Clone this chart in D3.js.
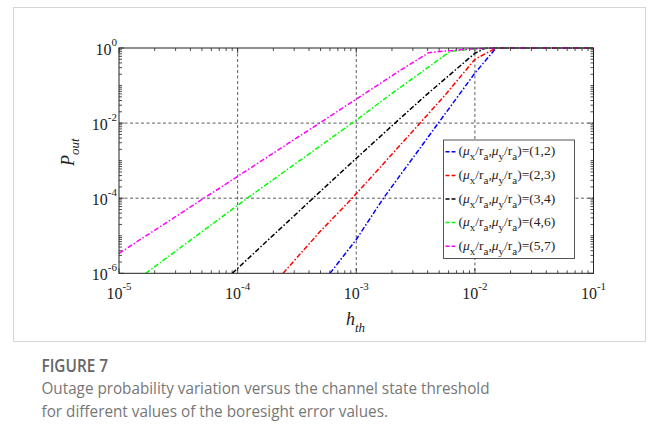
<!DOCTYPE html>
<html>
<head>
<meta charset="utf-8">
<script src="https://cdn.jsdelivr.net/npm/d3@7"></script>
<style>
  body { margin: 0; background: #fff; }
  svg { display: block; }
</style>
</head>
<body>
<script>
// [h_th, P_out] pairs for each boresight case
const seriesNames = ["(1,2)", "(2,3)", "(3,4)", "(4,6)", "(5,7)"];
const seriesColors = ["#0000ff", "#ff0000", "#000000", "#00ff00", "#ff00ff"];

const blueData = [[6.01e-4, 1e-6], [1e-3, 7.94e-6], [1.694e-3, 1e-4], [4.92e-3, 1e-2],
  [1e-2, 0.214], [1.51e-2, 1], [0.1, 1]];
const redData = [[2.415e-4, 1e-6], [4.95e-4, 1.29e-5], [9.25e-4, 1e-4], [3.45e-3, 1e-2],
  [5.61e-3, 0.0558], [1e-2, 0.5], [1.51e-2, 1], [0.1, 1]];
const blackData = [[9.02e-5, 1e-6], [4.95e-4, 1.49e-4], [1e-3, 1.15e-3], [2.12e-3, 1e-2],
  [3.88e-3, 0.0558], [1e-2, 0.724], [1.216e-2, 0.977], [1.51e-2, 1], [0.1, 1]];
const greenData = [[1.679e-5, 1e-6], [1.205e-4, 1e-4], [1e-3, 0.012], [1.866e-3, 0.0525],
  [6.17e-3, 0.81], [1e-2, 0.955], [1.51e-2, 1], [0.1, 1]];
const magentaData = [[1e-5, 3.39e-6], [5.21e-5, 1e-4], [4.9e-4, 1e-2], [2.34e-3, 0.251],
  [4.07e-3, 0.75], [6.17e-3, 0.85], [1e-2, 0.955], [1.51e-2, 1], [0.1, 1]];
const allSeries = [blueData, redData, blackData, greenData, magentaData];

const xTicks = [1e-5, 1e-4, 1e-3, 1e-2, 1e-1];
const xTickExp = ["-5", "-4", "-3", "-2", "-1"];
const yTicks = [1, 1e-2, 1e-4, 1e-6];
const yTickExp = ["0", "-2", "-4", "-6"];

const W = 658, H = 448;
const pLeft = 119, pRight = 593.5, pTop = 48, pBottom = 273.3;
const serif = "'Liberation Serif', 'Times New Roman', serif";

const svg = d3.select("body").append("svg")
  .attr("width", W).attr("height", H);

// light frame around the figure image
svg.append("rect")
  .attr("x", 13.5).attr("y", 7.5).attr("width", 632).attr("height", 334)
  .attr("fill", "none").attr("stroke", "#d6d6d6").attr("stroke-width", 1);

const x = d3.scaleLog().domain([1e-5, 1e-1]).range([pLeft, pRight]);
const y = d3.scaleLog().domain([1e-6, 1]).range([pBottom, pTop]);

// minor ticks: every m*10^k that is not a major tick
const xMinor = [], yMinor = [];
for (let k = -5; k <= -1; k++) for (let m = 1; m <= 9; m++) {
  const v = m * Math.pow(10, k);
  if (v <= 0.1 + 1e-12 && !xTicks.some(t => Math.abs(t - v) / v < 1e-6)) xMinor.push(v);
}
for (let k = -6; k <= 0; k++) for (let m = 1; m <= 9; m++) {
  const v = m * Math.pow(10, k);
  if (v <= 1 + 1e-12 && !yTicks.some(t => Math.abs(t - v) / v < 1e-6)) yMinor.push(v);
}

// grid
const grid = svg.append("g").attr("stroke", "#333").attr("stroke-width", 0.8)
  .attr("stroke-dasharray", "3,2.5");
grid.selectAll(".gx").data(xTicks.slice(1, -1)).join("line").attr("class", "gx")
  .attr("x1", d => x(d)).attr("x2", d => x(d)).attr("y1", pTop).attr("y2", pBottom);
grid.selectAll(".gy").data(yTicks.slice(1, -1)).join("line").attr("class", "gy")
  .attr("y1", d => y(d)).attr("y2", d => y(d)).attr("x1", pLeft).attr("x2", pRight);

// ticks (inward, on all four sides)
const ticks = svg.append("g").attr("stroke", "#222").attr("stroke-width", 0.8);
function xTickLines(vals, len) {
  vals.forEach(v => {
    ticks.append("line").attr("x1", x(v)).attr("x2", x(v)).attr("y1", pBottom).attr("y2", pBottom - len);
    ticks.append("line").attr("x1", x(v)).attr("x2", x(v)).attr("y1", pTop).attr("y2", pTop + len);
  });
}
function yTickLines(vals, len) {
  vals.forEach(v => {
    ticks.append("line").attr("y1", y(v)).attr("y2", y(v)).attr("x1", pLeft).attr("x2", pLeft + len);
    ticks.append("line").attr("y1", y(v)).attr("y2", y(v)).attr("x1", pRight).attr("x2", pRight - len);
  });
}
xTickLines(xTicks, 5); xTickLines(xMinor, 3);
yTickLines(yTicks, 5); yTickLines(yMinor, 3);

// curves
svg.append("clipPath").attr("id", "plotclip").append("rect")
  .attr("x", pLeft).attr("y", pTop - 1).attr("width", pRight - pLeft).attr("height", pBottom - pTop + 1);

const line = d3.line().x(d => x(d[0])).y(d => y(d[1]));
svg.append("g").attr("clip-path", "url(#plotclip)")
  .selectAll("path").data(allSeries).join("path")
  .attr("d", line)
  .attr("fill", "none")
  .attr("stroke", (d, i) => seriesColors[i])
  .attr("stroke-width", 1.5)
  .attr("stroke-dasharray", "5,2,1.5,2");

// axes box
svg.append("rect").attr("x", pLeft).attr("y", pTop).attr("width", pRight - pLeft).attr("height", pBottom - pTop)
  .attr("fill", "none").attr("stroke", "#222").attr("stroke-width", 1);

// x tick labels
const xl = svg.append("g").attr("font-family", serif).attr("fill", "#222");
xTicks.forEach((v, i) => {
  const t = xl.append("text").attr("x", x(v)).attr("y", 298.5).attr("text-anchor", "middle")
    .attr("font-size", 16);
  t.append("tspan").text("10");
  t.append("tspan").attr("dy", -8.5).attr("font-size", 11).text(xTickExp[i]);
});

// y tick labels
yTicks.forEach((v, i) => {
  const t = xl.append("text").attr("x", 117).attr("y", y(v) + 6.5).attr("text-anchor", "end")
    .attr("font-size", 16);
  t.append("tspan").text("10");
  t.append("tspan").attr("dy", -8.5).attr("font-size", 11).text(yTickExp[i]);
});

// axis titles
const xt = xl.append("text").attr("x", 346).attr("y", 325).attr("font-size", 18)
  .attr("font-style", "italic");
xt.append("tspan").text("h");
xt.append("tspan").attr("dy", 7).attr("font-size", 13).text("th");

const yt = xl.append("text").attr("transform", "translate(73.5,166) rotate(-90)")
  .attr("font-size", 18).attr("font-style", "italic");
yt.append("tspan").text("P");
yt.append("tspan").attr("dy", 5).attr("font-size", 13).text("out");

// legend
const lgX = 443.5, lgY = 140, lgW = 131, lgH = 118.5, rowH = 23.6;
svg.append("rect").attr("x", lgX).attr("y", lgY).attr("width", lgW).attr("height", lgH)
  .attr("fill", "#fff").attr("stroke", "#444").attr("stroke-width", 0.9);
const lg = svg.append("g").selectAll("g").data(seriesNames).join("g")
  .attr("transform", (d, i) => `translate(${lgX},${lgY + rowH * (i + 0.5)})`);
lg.append("line").attr("x1", 2).attr("x2", 14).attr("y1", 0).attr("y2", 0)
  .attr("stroke", (d, i) => seriesColors[i]).attr("stroke-width", 1.5)
  .attr("stroke-dasharray", "4,2");
lg.each(function (d) {
  const t = d3.select(this).append("text").attr("x", 15).attr("y", 3.5)
    .attr("font-family", serif).attr("font-size", 13.5).attr("fill", "#222");
  const parts = [["(", 0], ["μ", 2], ["x", 1], ["/r", 0], ["a", 1], [",", 0], ["μ", 2], ["y", 1],
    ["/r", 0], ["a", 1], [")=" + d, 0]];
  let prev = 0;
  parts.forEach(([s, kind]) => {
    const off = kind === 1 ? 5 : 0;
    const ts = t.append("tspan").attr("dy", off - prev)
      .attr("font-size", kind === 1 ? 11 : 13.5).text(s);
    if (kind === 2) ts.attr("font-style", "italic");
    prev = off;
  });
});

// caption
const cap = svg.append("g").attr("font-family", "'Open Sans', 'Noto Sans', sans-serif");
cap.append("text").attr("x", 41.5).attr("y", 371.7).attr("font-size", 17.5)
  .attr("font-weight", 600).attr("fill", "#666").text("FIGURE 7")
  .attr("textLength", 66.5).attr("lengthAdjust", "spacingAndGlyphs");
cap.append("text").attr("x", 41.5).attr("y", 393.5).attr("font-size", 16.5)
  .attr("fill", "#777").text("Outage probability variation versus the channel state threshold")
  .attr("textLength", 448).attr("lengthAdjust", "spacingAndGlyphs");
cap.append("text").attr("x", 41.5).attr("y", 417).attr("font-size", 16.5)
  .attr("fill", "#777").text("for different values of the boresight error values.")
  .attr("textLength", 346.5).attr("lengthAdjust", "spacingAndGlyphs");
</script>
</body>
</html>
